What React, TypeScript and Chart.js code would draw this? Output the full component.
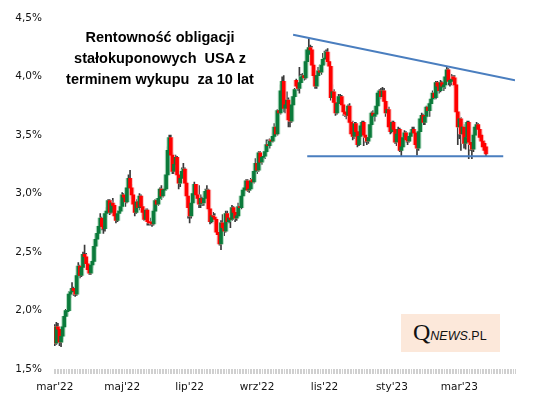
import React, { useEffect, useRef } from "react";
import { Chart, registerables } from "chart.js";

Chart.register(...registerables);

// ---- DATA ----
const monthLabels = ["mar'22", "maj'22", "lip'22", "wrz'22", "lis'22", "sty'23", "mar'23"];
const labelStep = 43;
const categoryCount = 294;
const yMin = 1.5;
const yMax = 4.5;
const yStep = 0.5;

const titleLines = ["Rentowność obligacji", "stałokuponowych  USA z", "terminem wykupu  za 10 lat"];

const opens = [
  1.86,1.72,1.86,1.84,1.73,1.78,1.86,1.95,1.99,2.00,2.14,2.16,2.19,2.17,2.14,2.30,2.38,2.30,2.37,2.48,2.46,2.40,2.35,
  2.32,2.39,2.42,2.55,2.61,2.66,2.72,2.79,2.72,2.70,2.83,2.85,2.94,2.84,2.92,2.90,2.81,2.77,2.83,2.85,
  2.89,2.99,2.97,2.93,3.05,3.13,3.05,2.99,2.91,2.84,2.93,2.88,2.98,2.89,2.84,2.78,2.86,2.76,2.76,2.75,2.74,
  2.85,2.94,2.91,2.96,3.04,2.98,3.03,3.04,3.16,3.37,3.48,3.33,3.19,3.25,3.31,3.16,3.09,3.13,3.19,3.21,3.09,
  2.98,2.88,2.81,2.92,3.00,3.08,2.99,2.96,2.91,2.96,2.92,2.96,3.02,3.03,2.87,2.76,2.81,2.80,2.78,2.67,
  2.65,2.57,2.75,2.71,2.68,2.83,2.76,2.79,2.78,2.88,2.84,2.79,2.81,2.89,2.88,2.98,3.03,3.05,3.11,3.03,3.04,3.12,3.10,
  3.19,3.26,3.20,3.35,3.27,3.31,3.32,3.36,3.42,3.41,3.46,3.45,3.49,3.57,3.51,3.71,3.69,3.88,3.96,3.73,3.76,
  3.80,3.63,3.62,3.76,3.83,3.97,3.92,3.90,3.95,4.00,4.01,3.99,4.13,4.19,4.25,4.23,4.10,4.01,3.92,4.01,
  4.05,4.04,4.10,4.15,4.16,4.21,4.13,4.09,3.82,3.87,3.78,3.69,3.77,3.82,3.83,3.76,3.70,3.69,3.67,3.75,
  3.61,3.51,3.49,3.60,3.53,3.42,3.49,3.58,3.61,3.50,3.48,3.45,3.48,3.59,3.69,3.66,3.68,3.75,3.86,3.88,3.83,
  3.88,3.79,3.69,3.72,3.57,3.53,3.61,3.55,3.44,3.51,3.55,3.37,3.40,3.48,3.52,3.46,3.45,3.49,3.52,3.55,
  3.52,3.42,3.39,3.53,3.64,3.67,3.61,3.66,3.74,3.71,3.77,3.81,3.86,3.82,3.95,3.92,3.88,3.95,3.91,
  3.93,4.00,4.06,3.95,3.96,4.00,3.99,3.93,3.70,3.57,3.64,3.51,3.57,3.43,3.48,3.61,3.44,3.42,3.38,3.50,3.56,3.59,3.55,
  3.50,3.45,3.43,3.40,
];

const highs = [
  1.88,1.90,1.89,1.85,1.80,1.87,1.96,2.01,2.04,2.16,2.18,2.24,2.20,2.19,2.32,2.41,2.39,2.38,2.50,2.56,2.49,2.42,2.39,
  2.41,2.43,2.56,2.65,2.67,2.73,2.83,2.80,2.75,2.84,2.88,2.95,2.95,2.94,2.96,2.91,2.83,2.85,2.88,2.94,
  3.01,3.00,3.01,3.07,3.16,3.20,3.08,3.01,2.93,2.95,2.95,3.00,2.99,2.91,2.86,2.87,2.87,2.78,2.79,2.77,2.87,
  2.95,2.96,2.98,3.05,3.07,3.04,3.06,3.18,3.40,3.50,3.50,3.35,3.27,3.33,3.32,3.17,3.15,3.22,3.26,3.22,3.10,
  2.99,2.90,2.93,3.01,3.10,3.08,3.00,3.07,2.99,2.97,3.00,3.04,3.07,3.04,2.89,2.82,2.84,2.83,2.79,2.70,
  2.67,2.77,2.82,2.74,2.85,2.85,2.81,2.84,2.90,2.89,2.85,2.84,2.92,2.91,2.99,3.04,3.07,3.12,3.12,3.10,3.13,3.14,3.20,
  3.30,3.28,3.36,3.36,3.33,3.34,3.37,3.46,3.46,3.47,3.49,3.52,3.60,3.64,3.72,3.80,3.93,4.00,4.01,3.80,3.87,
  3.82,3.68,3.78,3.85,3.90,3.98,3.96,4.08,4.02,4.03,4.05,4.14,4.24,4.33,4.27,4.26,4.11,4.02,4.03,4.08,
  4.10,4.12,4.20,4.22,4.23,4.24,4.16,4.10,3.93,3.89,3.80,3.79,3.85,3.85,3.84,3.77,3.72,3.72,3.76,3.77,
  3.62,3.62,3.61,3.61,3.54,3.51,3.59,3.62,3.62,3.54,3.49,3.50,3.60,3.70,3.71,3.70,3.76,3.87,3.89,3.90,3.91,
  3.90,3.80,3.73,3.74,3.60,3.62,3.62,3.58,3.52,3.57,3.56,3.42,3.50,3.54,3.53,3.48,3.51,3.54,3.57,3.57,
  3.53,3.44,3.54,3.65,3.69,3.68,3.67,3.75,3.76,3.78,3.83,3.88,3.92,3.96,3.96,3.94,3.97,3.96,3.94,
  4.01,4.09,4.07,3.99,4.02,4.01,4.01,3.94,3.71,3.69,3.65,3.61,3.59,3.53,3.62,3.62,3.52,3.46,3.52,3.58,3.61,3.60,3.57,
  3.52,3.47,3.45,3.42,
];

const lows = [
  1.70,1.71,1.82,1.70,1.69,1.76,1.85,1.93,1.96,2.00,2.11,2.14,2.13,2.12,2.13,2.28,2.28,2.29,2.36,2.44,2.36,2.33,2.31,
  2.31,2.37,2.40,2.53,2.58,2.64,2.71,2.69,2.66,2.68,2.80,2.84,2.82,2.83,2.87,2.78,2.75,2.76,2.81,2.84,
  2.88,2.93,2.89,2.92,3.04,3.03,2.96,2.90,2.81,2.83,2.86,2.86,2.88,2.81,2.77,2.77,2.73,2.73,2.73,2.72,2.73,
  2.84,2.89,2.90,2.95,2.95,2.97,3.01,3.03,3.15,3.35,3.30,3.17,3.17,3.23,3.13,3.04,3.06,3.12,3.18,3.07,2.95,
  2.79,2.75,2.79,2.91,2.98,2.96,2.92,2.88,2.88,2.90,2.90,2.95,3.00,2.85,2.74,2.75,2.77,2.74,2.65,2.63,
  2.56,2.52,2.69,2.64,2.67,2.74,2.75,2.71,2.77,2.82,2.76,2.77,2.80,2.85,2.87,2.97,3.00,3.04,3.02,3.01,3.03,3.08,3.09,
  3.17,3.17,3.19,3.24,3.25,3.28,3.30,3.35,3.39,3.39,3.42,3.44,3.48,3.50,3.50,3.67,3.68,3.85,3.70,3.69,3.72,
  3.57,3.57,3.61,3.74,3.82,3.90,3.88,3.86,3.93,3.97,3.97,3.98,4.11,4.15,4.15,4.08,3.99,3.90,3.90,3.99,
  4.01,4.02,4.09,4.11,4.14,4.10,4.07,3.80,3.79,3.76,3.67,3.68,3.75,3.80,3.74,3.67,3.66,3.64,3.66,3.60,
  3.50,3.46,3.47,3.51,3.40,3.41,3.47,3.55,3.41,3.44,3.42,3.43,3.47,3.58,3.64,3.62,3.67,3.74,3.82,3.81,3.82,
  3.73,3.66,3.67,3.55,3.51,3.52,3.52,3.43,3.41,3.50,3.36,3.32,3.38,3.47,3.44,3.42,3.44,3.47,3.51,3.50,
  3.40,3.33,3.37,3.52,3.58,3.59,3.59,3.65,3.69,3.66,3.74,3.79,3.81,3.81,3.89,3.86,3.87,3.90,3.88,
  3.90,3.97,3.93,3.92,3.93,3.93,3.91,3.68,3.42,3.47,3.37,3.43,3.39,3.38,3.46,3.30,3.37,3.30,3.36,3.48,3.54,3.53,3.46,
  3.43,3.38,3.35,3.32,
];

const closes = [
  1.72,1.86,1.84,1.73,1.78,1.86,1.95,2.00,2.00,2.14,2.16,2.19,2.17,2.14,2.30,2.38,2.30,2.37,2.48,2.46,2.40,2.35,2.32,
  2.39,2.42,2.55,2.61,2.66,2.72,2.79,2.72,2.70,2.83,2.85,2.94,2.84,2.92,2.90,2.81,2.77,2.83,2.85,2.89,
  2.99,2.97,2.93,3.05,3.13,3.05,2.99,2.91,2.84,2.93,2.88,2.98,2.89,2.84,2.78,2.86,2.76,2.75,2.75,2.74,2.85,
  2.94,2.91,2.96,3.04,2.98,3.03,3.04,3.16,3.37,3.48,3.33,3.19,3.25,3.31,3.16,3.09,3.13,3.19,3.21,3.09,2.98,
  2.88,2.81,2.92,3.00,3.08,2.99,2.96,2.91,2.96,2.92,2.96,3.02,3.03,2.87,2.76,2.81,2.80,2.78,2.67,2.65,
  2.57,2.75,2.71,2.68,2.83,2.76,2.79,2.78,2.88,2.84,2.79,2.81,2.89,2.88,2.98,3.03,3.05,3.11,3.03,3.04,3.11,3.10,3.19,
  3.26,3.20,3.35,3.27,3.31,3.32,3.36,3.42,3.41,3.45,3.45,3.49,3.57,3.51,3.71,3.69,3.88,3.96,3.73,3.76,3.80,
  3.63,3.62,3.76,3.83,3.89,3.92,3.90,3.95,4.00,4.01,3.99,4.13,4.23,4.25,4.23,4.10,4.01,3.92,4.01,4.05,
  4.04,4.10,4.15,4.16,4.21,4.13,4.09,3.82,3.87,3.78,3.69,3.77,3.83,3.83,3.76,3.70,3.68,3.67,3.75,3.61,
  3.51,3.49,3.60,3.53,3.42,3.49,3.58,3.61,3.50,3.48,3.45,3.48,3.59,3.69,3.67,3.68,3.75,3.86,3.88,3.83,3.88,
  3.79,3.69,3.72,3.57,3.53,3.61,3.55,3.44,3.51,3.55,3.37,3.40,3.48,3.52,3.46,3.45,3.49,3.52,3.55,3.52,
  3.42,3.39,3.53,3.64,3.67,3.61,3.66,3.74,3.71,3.77,3.81,3.86,3.82,3.95,3.92,3.88,3.95,3.92,3.93,
  4.00,4.06,3.96,3.97,3.98,3.98,3.93,3.70,3.57,3.64,3.51,3.57,3.43,3.48,3.61,3.44,3.42,3.38,3.50,3.57,3.59,3.55,3.48,
  3.45,3.40,3.37,3.34,
];

// trend lines (category index, yield %)
const resistanceLine = [
  { x: 152, y: 4.36 },
  { x: 293.5, y: 3.97 },
];
const supportLine = [
  { x: 161, y: 3.32 },
  { x: 286, y: 3.32 },
];

// ---- STYLE ----
const upColor = "#0b7a3b";
const downColor = "#ff0000";
const upHalo = "#b4dcc2";
const downHalo = "#fbc4c4";
const wickColor = "#3a3a3a";
const trendColor = "#4a7ebf";
const axisFont = { family: '"DejaVu Sans", sans-serif', size: 10.5 };

export default function App() {
  const canvasRef = useRef<HTMLCanvasElement | null>(null);

  useEffect(() => {
    const canvas = canvasRef.current;
    if (!canvas) return;
    const categories = Array.from({ length: categoryCount }, (_, i) => String(i));
    const bodies = opens.map((o, i) => [o, closes[i]]);
    const wicks = lows.map((l, i) => [l, highs[i]]);
    const isUp = opens.map((o, i) => closes[i] >= o);
    const bodyColors = isUp.map((u) => (u ? upColor : downColor));
    const haloColors = isUp.map((u) => (u ? upHalo : downHalo));

    const chart = new Chart(canvas, {
      type: "bar",
      data: {
        labels: categories,
        datasets: [
          {
            type: "line",
            data: resistanceLine as any,
            xAxisID: "xl",
            borderColor: trendColor,
            borderWidth: 2,
            pointRadius: 0,
            fill: false,
            order: 0,
          } as any,
          {
            type: "line",
            data: supportLine as any,
            xAxisID: "xl",
            borderColor: trendColor,
            borderWidth: 2,
            pointRadius: 0,
            fill: false,
            order: 0,
          } as any,
          {
            data: bodies as any,
            backgroundColor: bodyColors,
            barThickness: 3,
            grouped: false,
            borderWidth: 0,
            order: 1,
          } as any,
          {
            data: bodies as any,
            backgroundColor: haloColors,
            barThickness: 5,
            grouped: false,
            borderWidth: 0,
            order: 2,
          } as any,
          {
            data: wicks as any,
            backgroundColor: wickColor,
            barThickness: 1,
            grouped: false,
            borderWidth: 0,
            order: 3,
          } as any,
        ],
      },
      options: {
        responsive: false,
        animation: false,
        events: [],
        layout: { padding: { top: 12, right: 26, bottom: 0, left: 0 } },
        plugins: { legend: { display: false }, tooltip: { enabled: false }, title: { display: false } },
        scales: {
          x: {
            type: "category",
            offset: true,
            grid: {
              display: true,
              drawOnChartArea: false,
              drawTicks: true,
              tickLength: 5,
              color: "#d0d0d0",
              offset: true,
            },
            border: { display: false },
            ticks: {
              autoSkip: false,
              maxRotation: 0,
              minRotation: 0,
              padding: 7,
              color: "#111",
              font: axisFont,
              callback: (_v: any, index: number) =>
                index % labelStep === 0 && monthLabels[index / labelStep] ? monthLabels[index / labelStep] : "",
            },
            afterFit: (s: any) => {
              s.height = 32;
            },
          },
          xl: {
            type: "linear",
            display: false,
            min: -0.5,
            max: categoryCount - 0.5,
            offset: false,
          },
          y: {
            type: "linear",
            min: yMin,
            max: yMax,
            grid: { display: false, drawTicks: false },
            border: { display: false },
            ticks: {
              stepSize: yStep,
              padding: 12,
              color: "#111",
              font: axisFont,
              callback: (v: any) => Number(v).toFixed(1).replace(".", ",") + "%",
            },
            afterFit: (s: any) => {
              s.width = 54;
            },
          },
        },
      } as any,
    });
    return () => chart.destroy();
  }, []);

  return (
    <div style={{ position: "fixed", left: 0, top: 0, width: 541, height: 401, background: "#fff", overflow: "hidden" }}>
      <canvas ref={canvasRef} width={541} height={401} style={{ position: "absolute", left: 0, top: 0, width: 541, height: 401 }} />
      <div
        style={{
          position: "absolute",
          left: 60,
          top: 27,
          width: 200,
          textAlign: "center",
          fontFamily: '"Liberation Sans", Arial, sans-serif',
          fontWeight: "bold",
          fontSize: 14.5,
          lineHeight: "21px",
          whiteSpace: "pre",
          color: "#000",
        }}
      >
        {titleLines.join("\n")}
      </div>
      <div style={{ position: "absolute", left: 401, top: 314, width: 99, height: 38, background: "#fce8da" }}>
        <div
          style={{
            position: "absolute",
            left: 12,
            top: 6,
            whiteSpace: "nowrap",
            lineHeight: 1,
            fontFamily: '"Liberation Sans", Arial, sans-serif',
            fontSize: 12.5,
            color: "#111",
          }}
        >
          <span style={{ fontFamily: '"Liberation Serif", serif', fontSize: 24 }}>Q</span>
          <span style={{ fontStyle: "italic" }}>NEWS</span>
          <span>.PL</span>
        </div>
      </div>
    </div>
  );
}
